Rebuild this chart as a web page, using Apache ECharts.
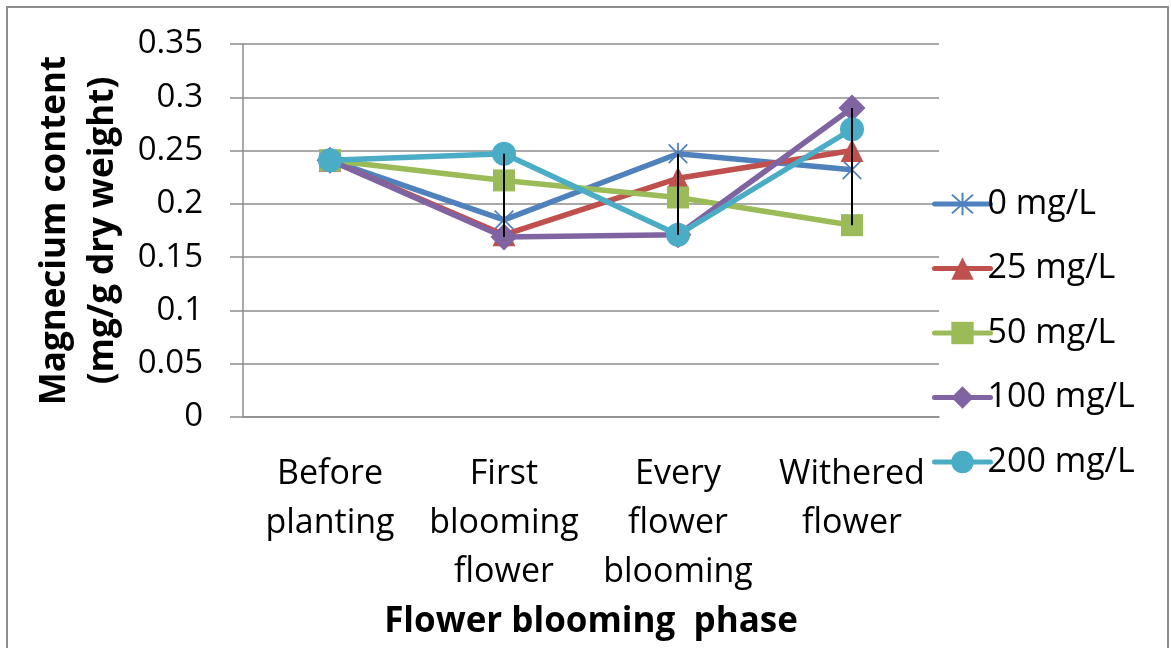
<!DOCTYPE html>
<html>
<head>
<meta charset="utf-8">
<script src="https://cdn.jsdelivr.net/npm/echarts@6/dist/echarts.min.js"></script>
<style>
  html, body { margin: 0; padding: 0; background: #fff; }
  #chart { width: 1171px; height: 648px; }
</style>
</head>
<body>
<div id="chart"></div>
<script>
// Flower blooming phases (x-axis categories)
const categories = ['Before\nplanting', 'First\nblooming\nflower', 'Every\nflower\nblooming', 'Withered\nflower'];

// Magnesium content (mg/g dry weight) per treatment concentration
const mg0   = [0.241, 0.185, 0.247, 0.232];
const mg25  = [0.241, 0.171, 0.224, 0.250];
const mg50  = [0.241, 0.222, 0.206, 0.180];
const mg100 = [0.241, 0.169, 0.171, 0.290];
const mg200 = [0.241, 0.247, 0.171, 0.270];

const seriesNames = ['0 mg/L', '25 mg/L', '50 mg/L', '100 mg/L', '200 mg/L'];
const yTicks = [0, 0.05, 0.1, 0.15, 0.2, 0.25, 0.3, 0.35];

const allSeries = [mg0, mg25, mg50, mg100, mg200];
const colors = ['#4F81BD', '#C0504D', '#9BBB59', '#8064A2', '#4BACC6'];

// Asterisk marker: vertical bar plus two diagonals
const starPath = 'path://M9.2 0H10.8V20H9.2Z M1 2.1L2.1 1L19 17.9L17.9 19Z M17.9 1L19 2.1L2.1 19L1 17.9Z';
const symbols = [starPath, 'triangle', 'rect', 'diamond', 'circle'];
const symbolSizes = [22, 23, 22, 27, 24];

// High-low range at each phase, taken from the series values
const highLow = categories.map((c, i) => {
  const vals = allSeries.map(s => s[i]);
  return [i, Math.min.apply(null, vals), Math.max.apply(null, vals)];
});

const font = '"Open Sans", "Noto Sans", sans-serif';

const lineSeries = seriesNames.map((name, k) => ({
  name: name,
  type: 'line',
  data: allSeries[k],
  symbol: symbols[k],
  symbolSize: symbolSizes[k],
  symbolKeepAspect: true,
  showAllSymbol: true,
  lineStyle: { width: 5.5, color: colors[k] },
  itemStyle: { color: colors[k], borderWidth: 0 },
  emphasis: { disabled: true },
  z: 2 + k,
  animation: false
}));

const highLowSeries = {
  type: 'custom',
  name: 'range',
  data: highLow,
  z: 20,
  silent: true,
  animation: false,
  renderItem: function (params, api) {
    const lo = api.coord([api.value(0), api.value(1)]);
    const hi = api.coord([api.value(0), api.value(2)]);
    return {
      type: 'line',
      shape: { x1: lo[0], y1: lo[1], x2: hi[0], y2: hi[1] },
      style: { stroke: '#000', lineWidth: 2 }
    };
  }
};

const chart = echarts.init(document.getElementById('chart'), null, { renderer: 'canvas' });
chart.setOption({
  backgroundColor: '#fff',
  animation: false,
  textStyle: { fontFamily: font },
  graphic: [{
    type: 'rect',
    shape: { x: 7, y: 7, width: 1161, height: 660 },
    style: { fill: 'none', stroke: '#8c8c8c', lineWidth: 2 },
    silent: true
  }],
  grid: { left: 243, right: 232, top: 44, bottom: 231 },
  legend: {
    data: seriesNames,
    orient: 'vertical',
    left: 927,
    top: 182,
    itemWidth: 56,
    itemHeight: 28,
    itemGap: 30.5,
    lineStyle: { width: 5, cap: 'round' },
    textStyle: { fontSize: 34, lineHeight: 24, color: '#000', fontFamily: font, padding: [0, 0, 0, -8] },
    selectedMode: false
  },
  xAxis: {
    type: 'category',
    data: categories,
    boundaryGap: true,
    name: 'Flower blooming  phase',
    nameLocation: 'middle',
    nameGap: 188,
    nameTextStyle: { fontSize: 35, lineHeight: 35, fontWeight: 'bold', color: '#000', fontFamily: font, verticalAlign: 'top' },
    axisLine: { lineStyle: { color: '#8c8c8c', width: 1.5 } },
    axisTick: { show: false },
    axisLabel: { interval: 0, fontSize: 34, color: '#000', lineHeight: 49, margin: 33, fontFamily: font }
  },
  yAxis: {
    type: 'value',
    min: yTicks[0],
    max: yTicks[yTicks.length - 1],
    interval: 0.05,
    name: 'Magnecium content\n(mg/g dry weight)',
    nameLocation: 'middle',
    nameGap: 109,
    nameTextStyle: { fontSize: 35, fontWeight: 'bold', color: '#000', lineHeight: 48, fontFamily: font },
    axisLine: { show: true, lineStyle: { color: '#8c8c8c', width: 1.5 } },
    axisTick: { show: true, length: 13, inside: false, lineStyle: { color: '#8c8c8c', width: 1.5 } },
    axisLabel: {
      fontSize: 33, color: '#000', margin: 40, fontFamily: font,
      formatter: function (v) { return String(+v.toFixed(2)); }
    },
    splitLine: { lineStyle: { color: '#8c8c8c', width: 1.5 } }
  },
  series: lineSeries.concat([highLowSeries])
});
</script>
</body>
</html>
